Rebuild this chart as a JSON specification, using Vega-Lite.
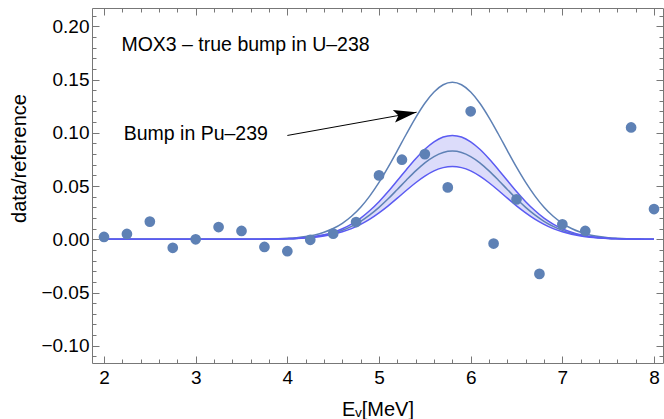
{
  "$schema": "https://vega.github.io/schema/vega-lite/v6.json",
  "width": 571,
  "height": 355,
  "autosize": {"type": "none"},
  "padding": {"left": 92, "top": 8, "right": 1, "bottom": 56},
  "background": "white",
  "config": {
    "view": {"stroke": null},
    "font": "Liberation Sans",
    "axis": {
      "grid": false,
      "domainColor": "#777777",
      "tickColor": "#777777",
      "labelColor": "#000000",
      "labelFont": "Liberation Sans",
      "labelFontSize": 19,
      "titleFont": "Liberation Sans",
      "titleFontSize": 20,
      "titleFontWeight": "normal",
      "titleColor": "#000000"
    }
  },
  "datasets": {
    "curve": [
      {"x": 2.0, "t": 0, "lo": 0, "mid": 0, "hi": 0},
      {"x": 3.0, "t": 0, "lo": 0, "mid": 0, "hi": 0},
      {"x": 3.4, "t": 0, "lo": 0, "mid": 0, "hi": 0},
      {"x": 3.5, "t": 0, "lo": 0, "mid": 0, "hi": 0},
      {"x": 3.6, "t": 0.0001, "lo": 0, "mid": 0, "hi": 0},
      {"x": 3.7, "t": 0.0001, "lo": 0.0001, "mid": 0.0001, "hi": 0.0001},
      {"x": 3.8, "t": 0.0003, "lo": 0.0001, "mid": 0.0001, "hi": 0.0002},
      {"x": 3.9, "t": 0.0005, "lo": 0.0002, "mid": 0.0003, "hi": 0.0003},
      {"x": 4.0, "t": 0.0009, "lo": 0.0004, "mid": 0.0005, "hi": 0.0006},
      {"x": 4.1, "t": 0.0015, "lo": 0.0007, "mid": 0.0008, "hi": 0.0010},
      {"x": 4.2, "t": 0.0025, "lo": 0.0012, "mid": 0.0014, "hi": 0.0017},
      {"x": 4.3, "t": 0.0041, "lo": 0.0019, "mid": 0.0023, "hi": 0.0027},
      {"x": 4.4, "t": 0.0066, "lo": 0.0031, "mid": 0.0037, "hi": 0.0043},
      {"x": 4.5, "t": 0.0101, "lo": 0.0047, "mid": 0.0057, "hi": 0.0067},
      {"x": 4.6, "t": 0.0150, "lo": 0.0070, "mid": 0.0084, "hi": 0.0099},
      {"x": 4.7, "t": 0.0216, "lo": 0.0100, "mid": 0.0121, "hi": 0.0143},
      {"x": 4.8, "t": 0.0301, "lo": 0.0140, "mid": 0.0169, "hi": 0.0199},
      {"x": 4.9, "t": 0.0408, "lo": 0.0189, "mid": 0.0229, "hi": 0.0270},
      {"x": 5.0, "t": 0.0534, "lo": 0.0248, "mid": 0.0300, "hi": 0.0353},
      {"x": 5.1, "t": 0.0677, "lo": 0.0314, "mid": 0.0380, "hi": 0.0448},
      {"x": 5.2, "t": 0.0832, "lo": 0.0386, "mid": 0.0468, "hi": 0.0551},
      {"x": 5.3, "t": 0.0991, "lo": 0.0460, "mid": 0.0557, "hi": 0.0656},
      {"x": 5.4, "t": 0.1143, "lo": 0.0531, "mid": 0.0642, "hi": 0.0756},
      {"x": 5.5, "t": 0.1278, "lo": 0.0593, "mid": 0.0718, "hi": 0.0845},
      {"x": 5.6, "t": 0.1383, "lo": 0.0642, "mid": 0.0777, "hi": 0.0915},
      {"x": 5.7, "t": 0.1451, "lo": 0.0673, "mid": 0.0815, "hi": 0.0960},
      {"x": 5.8, "t": 0.1474, "lo": 0.0684, "mid": 0.0828, "hi": 0.0975},
      {"x": 5.9, "t": 0.1451, "lo": 0.0673, "mid": 0.0815, "hi": 0.0960},
      {"x": 6.0, "t": 0.1383, "lo": 0.0642, "mid": 0.0777, "hi": 0.0915},
      {"x": 6.1, "t": 0.1278, "lo": 0.0593, "mid": 0.0718, "hi": 0.0845},
      {"x": 6.2, "t": 0.1143, "lo": 0.0531, "mid": 0.0642, "hi": 0.0756},
      {"x": 6.3, "t": 0.0991, "lo": 0.0460, "mid": 0.0557, "hi": 0.0656},
      {"x": 6.4, "t": 0.0832, "lo": 0.0386, "mid": 0.0468, "hi": 0.0551},
      {"x": 6.5, "t": 0.0677, "lo": 0.0314, "mid": 0.0380, "hi": 0.0448},
      {"x": 6.6, "t": 0.0534, "lo": 0.0248, "mid": 0.0300, "hi": 0.0353},
      {"x": 6.7, "t": 0.0408, "lo": 0.0189, "mid": 0.0229, "hi": 0.0270},
      {"x": 6.8, "t": 0.0301, "lo": 0.0140, "mid": 0.0169, "hi": 0.0199},
      {"x": 6.9, "t": 0.0216, "lo": 0.0100, "mid": 0.0121, "hi": 0.0143},
      {"x": 7.0, "t": 0.0150, "lo": 0.0070, "mid": 0.0084, "hi": 0.0099},
      {"x": 7.1, "t": 0.0101, "lo": 0.0047, "mid": 0.0057, "hi": 0.0067},
      {"x": 7.2, "t": 0.0066, "lo": 0.0031, "mid": 0.0037, "hi": 0.0043},
      {"x": 7.3, "t": 0.0041, "lo": 0.0019, "mid": 0.0023, "hi": 0.0027},
      {"x": 7.4, "t": 0.0025, "lo": 0.0012, "mid": 0.0014, "hi": 0.0017},
      {"x": 7.5, "t": 0.0015, "lo": 0.0007, "mid": 0.0008, "hi": 0.0010},
      {"x": 7.6, "t": 0.0009, "lo": 0.0004, "mid": 0.0005, "hi": 0.0006},
      {"x": 7.7, "t": 0.0005, "lo": 0.0002, "mid": 0.0003, "hi": 0.0003},
      {"x": 7.8, "t": 0.0003, "lo": 0.0001, "mid": 0.0001, "hi": 0.0002},
      {"x": 7.9, "t": 0.0001, "lo": 0.0001, "mid": 0.0001, "hi": 0.0001},
      {"x": 8.0, "t": 0.0001, "lo": 0, "mid": 0, "hi": 0}
    ],
    "pts": [
      {"x": 2.0, "y": 0.0022},
      {"x": 2.25, "y": 0.0050},
      {"x": 2.5, "y": 0.0166},
      {"x": 2.75, "y": -0.0080},
      {"x": 3.0, "y": 0.0000},
      {"x": 3.25, "y": 0.0115},
      {"x": 3.5, "y": 0.0078},
      {"x": 3.75, "y": -0.0072},
      {"x": 4.0, "y": -0.0112},
      {"x": 4.25, "y": -0.0005},
      {"x": 4.5, "y": 0.0053},
      {"x": 4.75, "y": 0.0162},
      {"x": 5.0, "y": 0.0600},
      {"x": 5.25, "y": 0.0747},
      {"x": 5.5, "y": 0.0800},
      {"x": 5.75, "y": 0.0487},
      {"x": 6.0, "y": 0.1202},
      {"x": 6.25, "y": -0.0040},
      {"x": 6.5, "y": 0.0375},
      {"x": 6.75, "y": -0.0325},
      {"x": 7.0, "y": 0.0140},
      {"x": 7.25, "y": 0.0078},
      {"x": 7.75, "y": 0.1050},
      {"x": 8.0, "y": 0.0284}
    ],
    "notes": [
      {"x": 2.19, "y": 0.1771, "label": "MOX3 – true bump in U–238"},
      {"x": 2.215, "y": 0.0928, "label": "Bump in Pu–239"}
    ],
    "arrow": [
      {"x": 4.0, "y": 0.0975, "x2": 5.41, "y2": 0.1193}
    ]
  },
  "resolve": {"axis": {"x": "independent", "y": "independent"}},
  "layer": [
    {
      "data": {"name": "curve"},
      "mark": {"type": "area", "color": "#DCDCFA", "interpolate": "monotone"},
      "encoding": {
        "x": {"field": "x", "type": "quantitative", "scale": {"domain": [1.869, 8.098], "nice": false, "zero": false},
          "axis": {"orient": "bottom", "values": [2, 3, 4, 5, 6, 7, 8], "tickSize": -7, "labelPadding": 12, "title": "Eᵥ[MeV]", "titleY": 52, "titleBaseline": "alphabetic"}},
        "y": {"field": "lo", "type": "quantitative", "scale": {"domain": [-0.1162, 0.2172], "nice": false, "zero": false},
          "axis": {"orient": "left", "values": [-0.1, -0.05, 0, 0.05, 0.1, 0.15, 0.2], "format": ".2f", "tickSize": -7, "labelPadding": 10, "title": "data/reference", "titleX": -73, "titleY": 150, "titleAngle": -90, "titleBaseline": "middle", "titleAlign": "center"}},
        "y2": {"field": "hi"}
      }
    },
    {
      "data": {"name": "curve"},
      "mark": {"type": "line", "color": "#5E81B5", "strokeWidth": 1.5, "interpolate": "monotone"},
      "encoding": {
        "x": {"field": "x", "type": "quantitative", "scale": {"domain": [1.869, 8.098], "nice": false, "zero": false},
          "axis": {"orient": "bottom", "values": [2.2, 2.4, 2.6, 2.8, 3.2, 3.4, 3.6, 3.8, 4.2, 4.4, 4.6, 4.8, 5.2, 5.4, 5.6, 5.8, 6.2, 6.4, 6.6, 6.8, 7.2, 7.4, 7.6, 7.8], "tickSize": -4, "labels": false, "domain": false, "title": null}},
        "y": {"field": "t", "type": "quantitative", "scale": {"domain": [-0.1162, 0.2172], "nice": false, "zero": false},
          "axis": {"orient": "left", "values": [-0.11, -0.09, -0.08, -0.07, -0.06, -0.04, -0.03, -0.02, -0.01, 0.01, 0.02, 0.03, 0.04, 0.06, 0.07, 0.08, 0.09, 0.11, 0.12, 0.13, 0.14, 0.16, 0.17, 0.18, 0.19, 0.21], "tickSize": -4, "labels": false, "domain": false, "title": null}}
      }
    },
    {
      "data": {"name": "curve"},
      "mark": {"type": "line", "color": "#5E81B5", "strokeWidth": 1.5, "interpolate": "monotone"},
      "encoding": {
        "x": {"field": "x", "type": "quantitative", "scale": {"domain": [1.869, 8.098], "nice": false, "zero": false},
          "axis": {"orient": "top", "values": [2, 3, 4, 5, 6, 7, 8], "tickSize": -7, "labels": false, "title": null}},
        "y": {"field": "mid", "type": "quantitative", "scale": {"domain": [-0.1162, 0.2172], "nice": false, "zero": false},
          "axis": {"orient": "right", "values": [-0.1, -0.05, 0, 0.05, 0.1, 0.15, 0.2], "tickSize": -7, "labels": false, "title": null}}
      }
    },
    {
      "data": {"name": "curve"},
      "mark": {"type": "line", "color": "#5B5BF2", "strokeWidth": 1.5, "interpolate": "monotone"},
      "encoding": {
        "x": {"field": "x", "type": "quantitative", "scale": {"domain": [1.869, 8.098], "nice": false, "zero": false},
          "axis": {"orient": "top", "values": [2.2, 2.4, 2.6, 2.8, 3.2, 3.4, 3.6, 3.8, 4.2, 4.4, 4.6, 4.8, 5.2, 5.4, 5.6, 5.8, 6.2, 6.4, 6.6, 6.8, 7.2, 7.4, 7.6, 7.8], "tickSize": -4, "labels": false, "domain": false, "title": null}},
        "y": {"field": "lo", "type": "quantitative", "scale": {"domain": [-0.1162, 0.2172], "nice": false, "zero": false},
          "axis": {"orient": "right", "values": [-0.11, -0.09, -0.08, -0.07, -0.06, -0.04, -0.03, -0.02, -0.01, 0.01, 0.02, 0.03, 0.04, 0.06, 0.07, 0.08, 0.09, 0.11, 0.12, 0.13, 0.14, 0.16, 0.17, 0.18, 0.19, 0.21], "tickSize": -4, "labels": false, "domain": false, "title": null}}
      }
    },
    {
      "data": {"name": "curve"},
      "mark": {"type": "line", "color": "#5B5BF2", "strokeWidth": 1.5, "interpolate": "monotone"},
      "encoding": {
        "x": {"field": "x", "type": "quantitative", "scale": {"domain": [1.869, 8.098], "nice": false, "zero": false}, "axis": null},
        "y": {"field": "hi", "type": "quantitative", "scale": {"domain": [-0.1162, 0.2172], "nice": false, "zero": false}, "axis": null}
      }
    },
    {
      "data": {"name": "pts"},
      "mark": {"type": "point", "filled": true, "color": "#5E81B5", "opacity": 1, "size": 115},
      "encoding": {
        "x": {"field": "x", "type": "quantitative", "axis": null},
        "y": {"field": "y", "type": "quantitative", "axis": null}
      }
    },
    {
      "data": {"name": "arrow"},
      "mark": {"type": "rule", "color": "#000000", "strokeWidth": 1},
      "encoding": {
        "x": {"field": "x", "type": "quantitative", "axis": null},
        "y": {"field": "y", "type": "quantitative", "axis": null},
        "x2": {"field": "x2"},
        "y2": {"field": "y2"}
      }
    },
    {
      "data": {"name": "arrow"},
      "mark": {"type": "point", "filled": true, "color": "#000000", "opacity": 1, "size": 2116, "angle": -10, "shape": "M0,0 L-1,-0.28 L-0.8,0 L-1,0.28 Z"},
      "encoding": {
        "x": {"field": "x2", "type": "quantitative", "axis": null},
        "y": {"field": "y2", "type": "quantitative", "axis": null}
      }
    },
    {
      "data": {"name": "notes"},
      "mark": {"type": "text", "align": "left", "baseline": "alphabetic", "fontSize": 19.5, "font": "Liberation Sans", "color": "#000000"},
      "encoding": {
        "x": {"field": "x", "type": "quantitative", "axis": null},
        "y": {"field": "y", "type": "quantitative", "axis": null},
        "text": {"field": "label"}
      }
    }
  ]
}
